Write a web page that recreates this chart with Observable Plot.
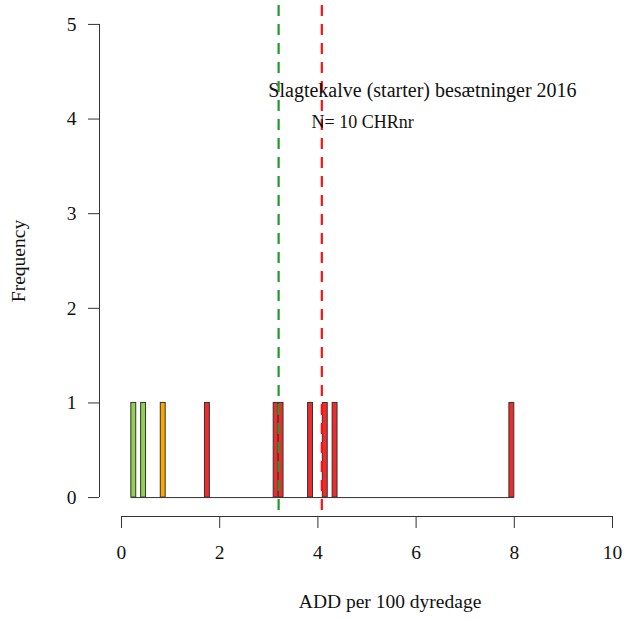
<!DOCTYPE html>
<html>
<head>
<meta charset="utf-8">
<script src="https://cdn.jsdelivr.net/npm/d3@7"></script>
<script src="https://cdn.jsdelivr.net/npm/@observablehq/plot@0.6"></script>
<style>
  html, body { margin: 0; padding: 0; background: #fff; }
  svg { display: block; }
</style>
</head>
<body>
<div id="chart"></div>
<script>
// Histogram bins (lower edge, width 0.1) with counts and colours
const binStarts = [0.2, 0.4, 0.8, 1.7, 3.1, 3.2, 3.8, 4.1, 4.3, 7.9];
const counts    = [1, 1, 1, 1, 1, 1, 1, 1, 1, 1];
const colors    = ["#92D050", "#92D050", "#FFA500", "#EE2C2C", "#EE2C2C", "#EE2C2C", "#EE2C2C", "#EE2C2C", "#EE2C2C", "#EE2C2C"];
const binWidth = 0.1;
const histRange = [0.2, 8.0];
const medianValue = 3.2;   // green dashed line
const meanValue = 4.08;    // red dashed line
const xTicks = [0, 2, 4, 6, 8, 10];
const yTicks = [0, 1, 2, 3, 4, 5];
const title = "Slagtekalve (starter) besætninger 2016";
const subtitle = "N= 10 CHRnr";
const xLabel = "ADD per 100 dyredage";
const yLabel = "Frequency";

const bins = binStarts.map((b, i) => ({x1: b, x2: +(b + binWidth).toFixed(2), y: counts[i], color: colors[i]}));

const xDomain = [-0.448, 10.285];
const yDomain = [-0.2, 5.2];
const font = "'Liberation Serif', 'Times New Roman', serif";

const chart = Plot.plot({
  width: 626,
  height: 619,
  marginLeft: 99,
  marginRight: 0,
  marginTop: 5,
  marginBottom: 103,
  style: {fontFamily: font, background: "#fff", overflow: "visible"},
  x: {domain: xDomain},
  y: {domain: yDomain},
  marks: [
    // flat baseline for empty bins
    Plot.ruleY([0], {x1: histRange[0], x2: histRange[1], stroke: "#333", strokeWidth: 1}),
    Plot.rectY(bins, {x1: "x1", x2: "x2", y1: 0, y2: "y", fill: "color", stroke: "#333", strokeWidth: 1}),
    // y axis
    Plot.ruleX([xDomain[0]], {y1: yTicks[0], y2: yTicks[yTicks.length - 1], stroke: "#333"}),
    Plot.axisY(yTicks, {anchor: "left", tickSize: 11, tickPadding: 12, fontSize: 19.5, stroke: "#333", color: "#111", label: null, tickFormat: d => d}),
    Plot.text([yLabel], {frameAnchor: "left", textAnchor: "middle", dx: -81, rotate: -90, fontSize: 19.5, fill: "#111"}),
    // x axis
    Plot.ruleY([yDomain[0]], {x1: xTicks[0], x2: xTicks[xTicks.length - 1], stroke: "#333"}),
    Plot.axisX(xTicks, {anchor: "bottom", tickSize: 12, tickPadding: 17, fontSize: 19.5, stroke: "#333", color: "#111", label: null, tickFormat: d => d}),
    Plot.text([xLabel], {x: 5.47, frameAnchor: "bottom", dy: 91, fontSize: 19.5, fill: "#111"}),
    // reference lines
    Plot.ruleX([medianValue], {stroke: "#1E9A28", strokeWidth: 2.2, strokeDasharray: "11,8"}),
    Plot.ruleX([meanValue], {stroke: "#FF1010", strokeWidth: 2.2, strokeDasharray: "11,8"}),
    // titles
    Plot.text([title], {x: 6.13, y: 4.3, fontSize: 20, fill: "#111"}),
    Plot.text([subtitle], {x: 4.91, y: 3.97, fontSize: 18, fill: "#111"})
  ]
});
document.getElementById("chart").appendChild(chart);
</script>
</body>
</html>
